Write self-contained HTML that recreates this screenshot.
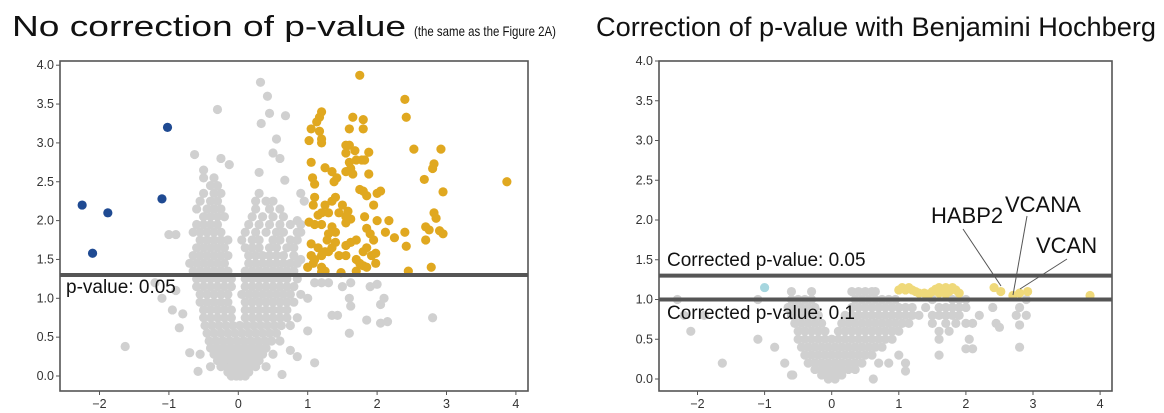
<!DOCTYPE html>
<html><head><meta charset="utf-8">
<style>
html,body{margin:0;padding:0;background:#fff;}
svg{display:block;font-family:"Liberation Sans","Noto Sans CJK JP",sans-serif;}
</style></head>
<body>
<svg id="fig" width="1164" height="413" viewBox="0 0 1164 413">
<text x="12" y="36" font-size="29" fill="#111" textLength="394" lengthAdjust="spacingAndGlyphs">No correction of p-value</text>
<text x="414" y="36" font-size="14" fill="#111" textLength="142" lengthAdjust="spacingAndGlyphs">(the same as the Figure 2A)</text>
<text x="596" y="36" font-size="27" fill="#111" textLength="560" lengthAdjust="spacingAndGlyphs">Correction of p-value  with Benjamini Hochberg</text>
<g id="left"></g>
<g id="right"></g>
</svg>
<script>
// ---- left panel data ----
const leftGrayRows = [
[0.0,[-0.1,-0.03,0.03,0.1]],
[0.05,[-0.15,-0.05,0.05,0.15]],
[0.12,[-0.25,-0.15,-0.05,0.05,0.15,0.25,-0.4,0.4]],
[0.2,[-0.3,-0.2,-0.1,0,0.1,0.2,0.3]],
[0.28,[-0.35,-0.25,-0.15,-0.05,0.05,0.15,0.25,0.35,-0.55,0.5]],
[0.36,[-0.4,-0.3,-0.2,-0.1,0,0.1,0.2,0.3,0.4]],
[0.45,[-0.42,-0.32,-0.22,-0.12,-0.02,0.08,0.18,0.28,0.38,0.48,0.6]],
[0.55,[-0.45,-0.35,-0.25,-0.15,-0.05,0.05,0.15,0.25,0.35,0.45,0.55]],
[0.65,[-0.48,-0.38,-0.28,-0.18,-0.08,0.02,0.12,0.22,0.32,0.42,0.52,0.62,0.75]],
[0.75,[-0.5,-0.4,-0.3,-0.2,-0.1,0.1,0.2,0.3,0.4,0.5,0.6,0.7,0.85]],
[0.85,[-0.5,-0.4,-0.3,-0.2,-0.1,0.1,0.2,0.3,0.4,0.5,0.6,0.7]],
[0.95,[-0.55,-0.45,-0.35,-0.25,-0.15,0.1,0.2,0.3,0.4,0.5,0.6,0.7,0.8]],
[1.05,[-0.55,-0.45,-0.35,-0.25,-0.15,0.05,0.15,0.25,0.35,0.45,0.55,0.65,0.75,0.9]],
[1.15,[-0.6,-0.5,-0.4,-0.3,-0.2,-0.1,0.1,0.2,0.3,0.4,0.5,0.6,0.7,0.8]],
[1.25,[-0.6,-0.5,-0.4,-0.3,-0.2,-0.1,0.1,0.2,0.3,0.4,0.5,0.6,0.7,0.85]],
[1.35,[-0.65,-0.55,-0.45,-0.35,-0.25,-0.15,0.1,0.2,0.3,0.4,0.5,0.6,0.7,0.8]],
[1.45,[-0.7,-0.6,-0.5,-0.4,-0.3,-0.2,0.15,0.25,0.35,0.45,0.55,0.65,0.75,0.85]],
[1.55,[-0.65,-0.55,-0.45,-0.35,-0.25,-0.15,0.15,0.25,0.35,0.45,0.55,0.65,0.8]],
[1.65,[-0.6,-0.5,-0.4,-0.3,-0.2,0.1,0.2,0.3,0.45,0.55,0.7,0.8]],
[1.75,[-0.55,-0.45,-0.35,-0.25,-0.15,0.05,0.2,0.3,0.5,0.6,0.75]],
[1.85,[-0.65,-0.55,-0.45,-0.35,-0.25,0.1,0.25,0.4,0.55,0.65,0.85]],
[1.95,[-0.6,-0.5,-0.4,-0.3,0.15,0.3,0.45,0.6,0.75,0.9]],
[2.05,[-0.5,-0.4,-0.3,-0.2,0.2,0.35,0.5,0.65]],
[2.15,[-0.6,-0.45,-0.35,-0.25,0.25,0.45,0.6]],
[2.25,[-0.55,-0.4,-0.3,0.25,0.4,0.5]],
[2.35,[-0.5,-0.35,-0.25,0.3]],
[2.45,[-0.4,-0.3]],
[2.55,[-0.35,-0.5]]
];
const leftGrayOut = [[-0.3,3.43],[0.32,3.78],[0.42,3.6],[0.45,3.38],[0.33,3.25],[0.68,3.35],[0.55,3.05],[0.5,2.87],[0.6,2.8],[-0.63,2.85],[-0.25,2.8],[-0.13,2.72],[0.3,2.62],[-0.5,2.65],[0.67,2.52],[0.9,2.35],[0.95,2.25],[-1.0,1.82],[-0.9,1.82],[-1.2,1.2],[-1.1,1.0],[-0.9,1.1],[-0.95,0.85],[-0.8,0.8],[-0.85,0.62],[-1.63,0.38],[-0.7,0.3],[-0.58,0.06],[0.63,0.02],[1.1,0.17],[0.85,0.25],[0.75,0.33],[1.0,0.58],[1.2,1.2],[1.0,1.0],[1.35,0.78],[1.43,0.78],[1.5,1.15],[1.6,1.0],[1.62,0.9],[1.6,0.55],[1.62,1.2],[1.9,1.15],[1.85,0.72],[2.0,1.18],[2.05,0.92],[2.05,0.68],[2.15,0.7],[2.8,0.75],[2.1,1.0],[0.9,1.5],[0.85,1.75],[0.85,2.0],[0.9,1.85],[1.0,1.4],[1.1,1.2],[1.3,1.2]];
const leftUpX = [1.75,2.4,2.42,1.2,1.17,1.13,1.05,1.65,1.8,1.8,1.6,1.17,1.2,1.02,1.2,1.55,1.6,1.55,1.68,1.88,2.53,2.92,1.05,1.6,1.7,1.78,1.82,1.62,1.55,2.82,2.8,1.25,1.35,1.42,1.38,1.65,1.88,2.68,1.07,1.1,1.75,1.8,2.0,2.05,2.95,1.85,1.4,1.35,1.1,1.08,1.25,1.5,1.45,1.58,1.2,1.15,1.3,1.55,1.62,1.82,1.95,2.82,2.85,1.02,1.1,1.2,1.35,1.4,1.3,1.28,1.55,1.85,1.9,2.0,2.17,2.12,2.25,2.4,2.7,2.75,2.9,2.95,1.05,1.15,1.25,1.35,1.4,1.55,1.62,1.7,1.95,2.7,2.42,1.05,1.1,1.2,1.3,1.45,1.55,1.8,1.85,1.92,1.98,1.0,1.08,1.2,1.25,1.7,1.75,1.8,1.85,1.98,1.48,1.7,2.45,2.78,1.2,3.87];
const leftUpY = [3.87,3.56,3.33,3.4,3.33,3.27,3.18,3.33,3.3,3.18,3.18,3.15,3.05,3.03,3.0,2.97,2.97,2.87,2.9,2.88,2.92,2.92,2.75,2.75,2.78,2.78,2.78,2.67,2.63,2.73,2.67,2.68,2.63,2.55,2.5,2.6,2.6,2.53,2.55,2.47,2.4,2.38,2.35,2.38,2.37,2.32,2.3,2.25,2.3,2.2,2.2,2.2,2.1,2.12,2.1,2.07,2.1,2.05,2.02,2.05,2.2,2.1,2.03,1.98,1.95,1.95,1.92,1.85,1.83,1.75,1.97,1.9,1.83,2.0,2.0,1.85,1.78,1.85,1.92,1.88,1.87,1.83,1.7,1.65,1.6,1.65,1.72,1.68,1.72,1.75,1.75,1.75,1.67,1.55,1.5,1.55,1.6,1.55,1.55,1.6,1.65,1.55,1.58,1.4,1.45,1.4,1.35,1.5,1.45,1.42,1.4,1.45,1.33,1.35,1.35,1.4,1.34,2.5];
const leftDownX = [-2.25,-1.88,-2.1,-1.1,-1.02];
const leftDownY = [2.2,2.1,1.58,2.28,3.2];
const leftXTicks = [-2,-1,0,1,2,3,4];
const leftYTicks = [0,0.5,1,1.5,2,2.5,3,3.5,4];
const leftThresholds = [1.3];

// ---- right panel data ----
const rightGrayRows = [
[0.0,[-0.05,0.05]],
[0.05,[-0.15,-0.05,0.05,0.15,-0.6]],
[0.12,[-0.25,-0.15,-0.05,0.05,0.15,0.25,0.35]],
[0.2,[-0.35,-0.25,-0.15,-0.05,0.05,0.15,0.25,0.35,0.45,-0.7,0.7,0.85,1.1]],
[0.3,[-0.4,-0.3,-0.2,-0.1,0,0.1,0.2,0.3,0.4,0.5,0.6,1.0]],
[0.4,[-0.45,-0.35,-0.25,-0.15,-0.05,0.05,0.15,0.25,0.35,0.45,0.55,0.65,0.75,-0.85]],
[0.5,[-0.5,-0.4,-0.3,-0.2,-0.1,0,0.1,0.2,0.3,0.4,0.5,0.6,0.7,0.8,0.9,-1.1,1.6,2.05]],
[0.6,[-0.5,-0.4,-0.3,-0.2,-0.1,0.1,0.2,0.3,0.4,0.5,0.6,0.7,0.8,0.9,1.0,1.6,1.75,-2.1]],
[0.7,[-0.55,-0.45,-0.35,-0.25,-0.15,0.15,0.25,0.35,0.45,0.55,0.65,0.75,0.85,0.95,1.05,1.15,1.5,1.7,1.85,2.0,2.1,2.45]],
[0.8,[-0.6,-0.5,-0.4,-0.3,-0.2,0.2,0.3,0.4,0.5,0.6,0.7,0.8,0.9,1.0,1.1,1.2,1.3,1.5,1.6,1.7,1.8,1.9,2.2,2.75,2.9,-2.2,-1.9]],
[0.9,[-0.65,-0.55,-0.45,-0.35,-0.25,0.3,0.4,0.5,0.6,0.7,0.8,0.9,1.0,1.1,1.2,1.4,1.6,1.7,1.8,1.9,2.0,2.4,2.8]],
[1.0,[-0.6,-0.5,-0.4,-0.3,0.35,0.45,0.55,0.65,0.75,0.85,0.95,1.5,1.8,1.9,2.0,2.9,-1.1,-2.3]],
[1.1,[-0.6,-0.3,0.3,0.4,0.5,0.6,0.65]]
];
const rightGrayOut = [[-1.63,0.2],[-0.58,0.05],[0.62,0.0],[1.1,0.1],[2.8,0.4],[2.5,0.65],[2.8,0.68],[1.6,0.3],[2.0,0.38],[2.1,0.38]];
const rightSigX = [1.0,1.05,1.1,1.15,1.2,1.25,1.3,1.38,1.45,1.5,1.55,1.6,1.65,1.7,1.75,1.8,1.85,1.9,1.6,1.7,2.42,2.52,2.7,2.8,2.92,3.85];
const rightSigY = [1.12,1.15,1.12,1.15,1.12,1.1,1.08,1.08,1.07,1.1,1.13,1.15,1.12,1.15,1.1,1.15,1.12,1.08,1.08,1.07,1.15,1.1,1.05,1.08,1.1,1.05];
const rightDownX = [-1.0];
const rightDownY = [1.15];
const rightXTicks = [-2,-1,0,1,2,3,4];
const rightYTicks = [0,0.5,1,1.5,2,2.5,3,3.5,4];
const rightThresholds = [1.3,1.0];

const NS = "http://www.w3.org/2000/svg";
function mk(tag, attrs, parent){const e=document.createElementNS(NS,tag);for(const k in attrs)e.setAttribute(k,attrs[k]);parent.appendChild(e);return e;}

function panel(g, box, xs, ys){
  const sx=v=>xs.p0+(v-xs.v0)*xs.k, sy=v=>ys.p0-(v-ys.v0)*ys.k;
  const frame=mk('rect',{x:box.x,y:box.y,width:box.w,height:box.h,fill:'none',stroke:'#555','stroke-width':1.6},g);
  
  
  return {sx,sy};
}
function ticks(g,box,S,xt,yt){
  xt.forEach(t=>{
    const l=mk('line',{x1:S.sx(t),x2:S.sx(t),y1:box.y+box.h,y2:box.y+box.h+4,stroke:'#555'},g);
    
    
    const tx=mk('text',{x:S.sx(t),y:box.y+box.h+17,'font-size':12.5,fill:'#333','text-anchor':'middle'},g);
    tx.textContent=(t<0?'\u2212'+Math.abs(t):String(t));
    
    
  });
  yt.forEach(t=>{
    const l=mk('line',{x1:box.x-4,x2:box.x,y1:S.sy(t),y2:S.sy(t),stroke:'#555'},g);
    
    
    const tx=mk('text',{x:box.x-6,y:S.sy(t)+4,'font-size':12.5,fill:'#333','text-anchor':'end'},g);
    tx.textContent=t.toFixed(1);
    
    
  });
}
function dot(g,S,x,y,col,name){
  const c=mk('circle',{cx:S.sx(x),cy:S.sy(y),r:4.6,fill:col},g);
  
  
}
function hline(g,box,S,v){
  const l=mk('line',{x1:box.x,x2:box.x+box.w,y1:S.sy(v),y2:S.sy(v),stroke:'#555','stroke-width':4},g);
  
  
}
function label(g,x,y,txt,size,name){
  const t=mk('text',{x:x,y:y,'font-size':size,fill:'#111'},g);
  t.textContent=txt;
  
  
  return t;
}

// Left
const gl=document.getElementById('left');
const boxL={x:60,y:61,w:468,h:330};
const SL=panel(gl,boxL,{v0:0,p0:238.3,k:69.4},{v0:0,p0:376,k:77.7});
const gld=mk('g',{},gl);
leftGrayRows.forEach(r=>r[1].forEach(x=>dot(gld,SL,x,r[0],'#d0d0d0','gray-point')));
leftGrayOut.forEach(p=>dot(gld,SL,p[0],p[1],'#d0d0d0','gray-point'));
leftUpX.forEach((x,i)=>dot(gld,SL,x,leftUpY[i],'#e0a820','upregulated-point'));
leftDownX.forEach((x,i)=>dot(gld,SL,x,leftDownY[i],'#1f4a92','downregulated-point'));
leftThresholds.forEach(v=>hline(gl,boxL,SL,v));
ticks(gl,boxL,SL,leftXTicks,leftYTicks);
label(gl,66,293,'p-value: 0.05',19,'threshold-label');

// Right
const gr=document.getElementById('right');
const boxR={x:659,y:61,w:453,h:330};
const SR=panel(gr,boxR,{v0:0,p0:831.7,k:67.1},{v0:0,p0:379,k:79.5});
const grd=mk('g',{},gr);
rightGrayRows.forEach(r=>r[1].forEach(x=>dot(grd,SR,x,r[0],'#d0d0d0','gray-point')));
rightGrayOut.forEach(p=>dot(grd,SR,p[0],p[1],'#d0d0d0','gray-point'));
rightSigX.forEach((x,i)=>dot(grd,SR,x,rightSigY[i],'#efd97a','significant-point'));
rightDownX.forEach((x,i)=>dot(grd,SR,x,rightDownY[i],'#a6d6df','down-point'));
rightThresholds.forEach(v=>hline(gr,boxR,SR,v));
ticks(gr,boxR,SR,rightXTicks,rightYTicks);
label(gr,667,266,'Corrected p-value: 0.05',19,'threshold-label-005');
label(gr,667,319,'Corrected p-value: 0.1',19,'threshold-label-01');
label(gr,931,223,'HABP2',22,'gene-label-habp2');
label(gr,1005,212,'VCANA',22,'gene-label-vcana');
label(gr,1036,253,'VCAN',22,'gene-label-vcan');
[[963,229,1001,286,'habp2-pointer'],[1027,216,1013,295,'vcana-pointer'],[1067,259,1020,289,'vcan-pointer']].forEach(a=>{
  const l=mk('line',{x1:a[0],y1:a[1],x2:a[2],y2:a[3],stroke:'#555','stroke-width':1},gr);
  
  
});
</script>
</body></html>
